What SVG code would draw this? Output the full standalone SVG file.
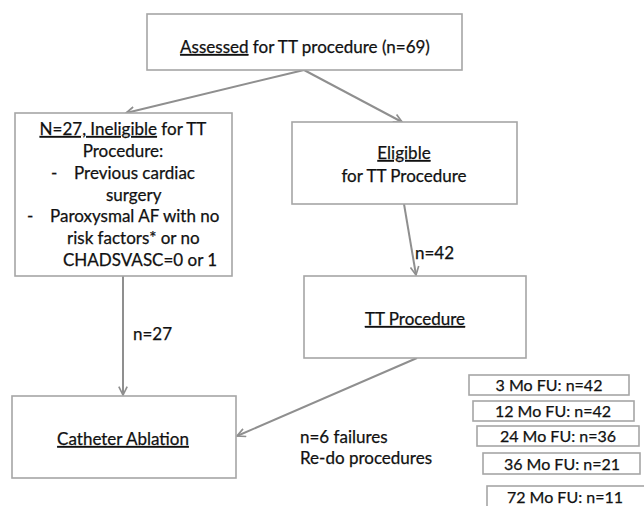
<svg xmlns="http://www.w3.org/2000/svg" width="644" height="506" viewBox="0 0 644 506">
<style>
.box{fill:#fff;stroke:#a6a6a6;stroke-width:1.6}
.t{font-family:Lato,"Open Sans",sans-serif;font-size:17px;fill:#111;stroke:#111;stroke-width:0.25}
.s{font-family:Lato,"Open Sans",sans-serif;font-size:16px;fill:#111;stroke:#111;stroke-width:0.25}
.c{text-anchor:middle}
.u{text-decoration:underline}
.ln{stroke:#8f8f8f;stroke-width:2;fill:none}
</style>
<defs>
<marker id="ah2" viewBox="0 0 12 12" refX="11" refY="6" markerWidth="10" markerHeight="10" orient="auto" markerUnits="userSpaceOnUse">
<path d="M1,1 L11,6 L1,11" fill="none" stroke="#8f8f8f" stroke-width="2"/>
</marker>
</defs>
<rect width="644" height="506" fill="#fff"/>
<g id="connectors">
<line class="ln" x1="304" y1="70" x2="126" y2="113" marker-end="url(#ah2)"/>
<line class="ln" x1="304" y1="70" x2="402" y2="122" marker-end="url(#ah2)"/>
<line class="ln" x1="404" y1="204" x2="416" y2="275" marker-end="url(#ah2)"/>
<line class="ln" x1="123" y1="276" x2="123" y2="395" marker-end="url(#ah2)"/>
<line class="ln" x1="417" y1="358" x2="237" y2="436" marker-end="url(#ah2)"/>
<text class="t" x="415" y="259">n=42</text>
<text class="t" x="133" y="340">n=27</text>
<text class="t" x="300" y="443">n=6 failures</text>
<text class="t" x="300" y="464">Re-do procedures</text>
</g>
<g id="assessed">
<rect class="box" x="147" y="14" width="315" height="56"/>
<text class="t c" x="305" y="53"><tspan class="u">Assessed</tspan> for TT procedure (n=69)</text>
</g>
<g id="ineligible">
<rect class="box" x="15" y="113" width="217" height="163"/>
<text class="t c" x="123" y="135"><tspan class="u">N=27, Ineligible</tspan> for TT</text>
<text class="t c" x="123" y="157">Procedure:</text>
<text class="t" x="51" y="179">-</text>
<text class="t" x="74" y="179">Previous cardiac</text>
<text class="t" x="106" y="201">surgery</text>
<text class="t" x="27" y="222">-</text>
<text class="t" x="50" y="222">Paroxysmal AF with no</text>
<text class="t" x="67" y="244">risk factors* or no</text>
<text class="t" x="63" y="266">CHADSVASC=0 or 1</text>
</g>
<g id="eligible">
<rect class="box" x="292" y="122" width="225" height="82"/>
<text class="t c u" x="404" y="159">Eligible</text>
<text class="t c" x="404" y="182">for TT Procedure</text>
</g>
<g id="tt">
<rect class="box" x="304" y="276" width="222" height="82"/>
<text class="t c u" x="415" y="325">TT Procedure</text>
</g>
<g id="catheter">
<rect class="box" x="12" y="396" width="224" height="82"/>
<text class="t c u" x="123" y="445">Catheter Ablation</text>
</g>
<g id="fu3">
<rect class="box" x="469" y="375" width="160" height="20"/>
<text class="s c" x="549" y="391">3 Mo FU: n=42</text>
</g>
<g id="fu12">
<rect class="box" x="473" y="401" width="161" height="20"/>
<text class="s c" x="553" y="417">12 Mo FU: n=42</text>
</g>
<g id="fu24">
<rect class="box" x="477" y="426" width="162" height="20"/>
<text class="s c" x="558" y="442">24 Mo FU: n=36</text>
</g>
<g id="fu36">
<rect class="box" x="483" y="453" width="157" height="21"/>
<text class="s c" x="562" y="470">36 Mo FU: n=21</text>
</g>
<g id="fu72">
<rect class="box" x="487" y="486" width="170" height="30"/>
<text class="s c" x="565" y="503">72 Mo FU: n=11</text>
</g>
</svg>
